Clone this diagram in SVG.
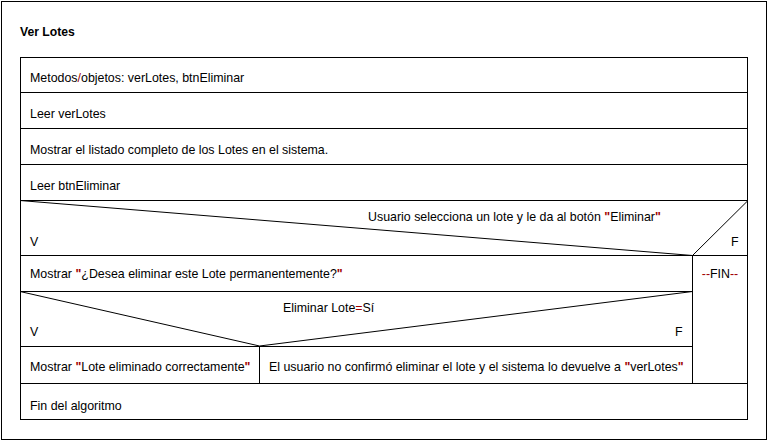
<svg xmlns="http://www.w3.org/2000/svg" width="769" height="441" viewBox="0 0 769 441">
<style>
text{font-family:"Liberation Sans",Arial,sans-serif;font-size:12.4px;fill:#000}
.t{font-weight:bold;font-size:12.2px}
.r{fill:#a00000}
.q{fill:#a00000;font-weight:bold}
.ln{stroke:#000;stroke-width:1;fill:none}
</style>
<rect x="0" y="0" width="769" height="441" fill="#fff"/>
<rect class="ln" x="1.5" y="1.5" width="765" height="438"/>
<text class="t" x="20" y="36">Ver Lotes</text>
<g id="table-frame"><rect class="ln" x="20.5" y="57.5" width="727" height="362"/></g>
<g id="n1"><text x="30" y="82">Metodos<tspan class="r">/</tspan>objetos: verLotes, btnEliminar</text></g>
<g id="connectors">
<line class="ln" x1="20" y1="92.5" x2="748" y2="92.5"/>
<line class="ln" x1="20" y1="128.5" x2="748" y2="128.5"/>
<line class="ln" x1="20" y1="164.5" x2="748" y2="164.5"/>
<line class="ln" x1="20" y1="200.5" x2="748" y2="200.5"/>
<line class="ln" x1="20" y1="255.5" x2="748" y2="255.5"/>
<line class="ln" x1="20" y1="291.5" x2="692" y2="291.5"/>
<line class="ln" x1="20" y1="346.5" x2="692" y2="346.5"/>
<line class="ln" x1="20" y1="383.5" x2="748" y2="383.5"/>
<line class="ln" x1="692.5" y1="255" x2="692.5" y2="383"/>
<line class="ln" x1="259.5" y1="346" x2="259.5" y2="383"/>
<polyline class="ln" points="20,200.5 692.5,255.5 748,200.5"/>
<polyline class="ln" points="20,291.5 259.5,346 692.5,291.5"/>
</g>
<g id="n2"><text x="30" y="118">Leer verLotes</text></g>
<g id="n3"><text x="30" y="154">Mostrar el listado completo de los Lotes en el sistema.</text></g>
<g id="n4"><text x="30" y="190">Leer btnEliminar</text></g>
<g id="d1">
<text x="368" y="221">Usuario selecciona un lote y le da al botón <tspan class="q">"</tspan>Eliminar<tspan class="q">"</tspan></text>
<text x="30" y="246">V</text>
<text x="731" y="246">F</text>
</g>
<g id="n5"><text x="30" y="278">Mostrar <tspan class="q">"</tspan>¿Desea eliminar este Lote permanentemente?<tspan class="q">"</tspan></text></g>
<g id="fin"><text x="720" y="278" text-anchor="middle"><tspan class="r">--</tspan>FIN<tspan class="r">--</tspan></text></g>
<g id="d2">
<text x="283" y="312">Eliminar Lote<tspan class="r">=</tspan>Sí</text>
<text x="30" y="336">V</text>
<text x="675" y="336">F</text>
</g>
<g id="n6"><text x="30" y="371">Mostrar <tspan class="q">"</tspan>Lote eliminado correctamente<tspan class="q">"</tspan></text></g>
<g id="n7"><text x="269" y="371">El usuario no confirmó eliminar el lote y el sistema lo devuelve a <tspan class="q">"</tspan>verLotes<tspan class="q">"</tspan></text></g>
<g id="n8"><text x="30" y="410">Fin del algoritmo</text></g>
</svg>
